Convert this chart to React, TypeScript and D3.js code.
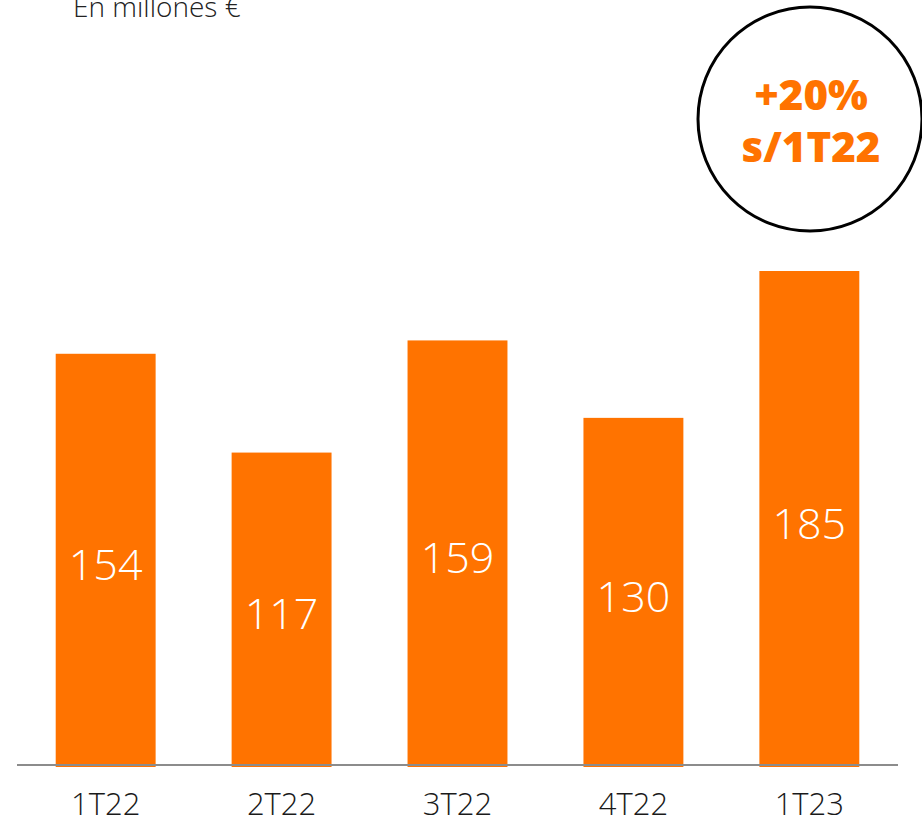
import React from "react";
import * as d3 from "d3";

const categories = ["1T22", "2T22", "3T22", "4T22", "1T23"];
const values = [154, 117, 159, 130, 185];
const unitLabel = "En millones €";
const badgeLines = ["+20%", "s/1T22"];

const W = 922;
const H = 822;
const ORANGE = "#FF7300";
const FONT = "'Open Sans', sans-serif";

export default function App() {
  const x = d3
    .scaleBand<string>()
    .domain(categories)
    .range([17, 898])
    .paddingInner(0.432)
    .paddingOuter(0.22);
  const y = d3.scaleLinear().domain([0, 185]).range([765, 271]);

  return (
    <svg
      width={W}
      height={H}
      style={{ position: "absolute", left: 0, top: 0, background: "#fff" }}
    >
      <text x={73} y={17} fontFamily={FONT} fontWeight={300} fontSize={28} fill="#222">
        {unitLabel}
      </text>

      {categories.map((c, i) => {
        const v = values[i];
        const x0 = x(c)!;
        const top = y(v);
        const bottom = y(0);
        const mid = (top + bottom) / 2;
        return (
          <g key={c}>
            <rect x={x0} y={top} width={x.bandwidth()} height={bottom - top + 2} fill={ORANGE} />
            <text
              x={x0 + x.bandwidth() / 2}
              y={mid + 5 + 15.5}
              textAnchor="middle"
              fontFamily={FONT}
              fontWeight={300}
              fontSize={43}
              fill="#fff"
            >
              {v}
            </text>
            <text
              x={x0 + x.bandwidth() / 2}
              y={815}
              textAnchor="middle"
              fontFamily={FONT}
              fontWeight={300}
              fontSize={31}
              fill="#1a1a1a"
            >
              {c}
            </text>
          </g>
        );
      })}

      <line x1={17} x2={898} y1={y(0)} y2={y(0)} stroke="#8c8c8c" strokeWidth={2} />

      <circle cx={810} cy={119} r={112} fill="none" stroke="#000" strokeWidth={3} />
      <text x={811} y={110} textAnchor="middle" fontFamily={FONT} fontWeight={800} fontSize={42} fill={ORANGE}>
        {badgeLines[0]}
      </text>
      <text x={811} y={162} textAnchor="middle" fontFamily={FONT} fontWeight={800} fontSize={42} fill={ORANGE}>
        {badgeLines[1]}
      </text>
    </svg>
  );
}
